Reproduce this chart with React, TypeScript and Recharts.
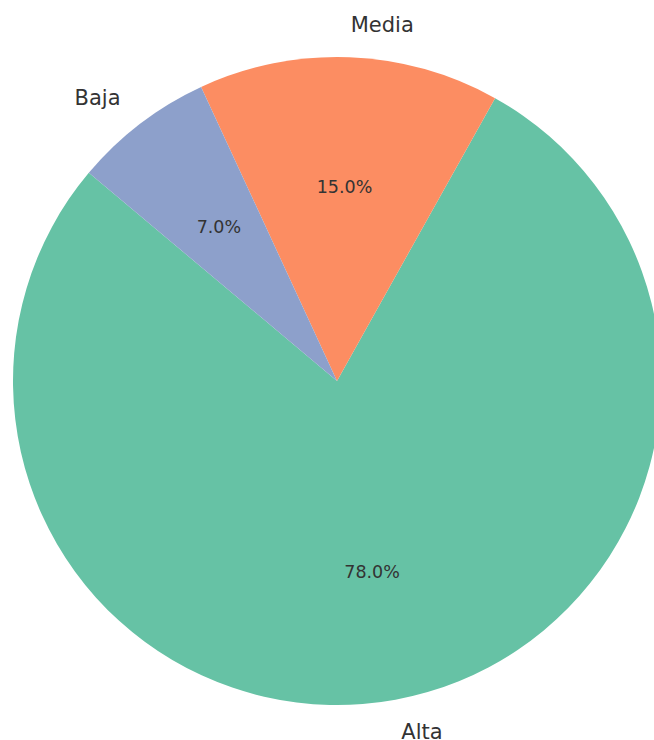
import { PieChart, Pie, Cell } from "recharts";

const categories = ["Alta", "Media", "Baja"];
const shares = [78, 15, 7];
const COLORS = ["#66c2a5", "#fc8d62", "#8da0cb"];

const data = categories.map((name, i) => ({ name, value: shares[i] }));

const RADIAN = Math.PI / 180;

function renderLabels(props: any) {
  const { cx, cy, midAngle, outerRadius, name, percent } = props;
  const cos = Math.cos(-midAngle * RADIAN);
  const sin = Math.sin(-midAngle * RADIAN);
  const lx = cx + outerRadius * 1.1 * cos;
  const ly = cy + outerRadius * 1.1 * sin;
  const px = cx + outerRadius * 0.6 * cos;
  const py = cy + outerRadius * 0.6 * sin;
  return (
    <g>
      <text
        x={lx}
        y={ly}
        fill="#333"
        fontSize={21}
        textAnchor={cos >= 0 ? "start" : "end"}
        dominantBaseline="central"
      >
        {name}
      </text>
      <text
        x={px}
        y={py}
        fill="#333"
        fontSize={17.5}
        textAnchor="middle"
        dominantBaseline="central"
      >
        {(percent * 100).toFixed(1)}%
      </text>
    </g>
  );
}

export default function App() {
  return (
    <div style={{ position: "absolute", left: 0, top: 0, background: "#fff", fontFamily: "'DejaVu Sans', sans-serif" }}>
      <PieChart width={654} height={740} margin={{ top: 0, right: 0, bottom: 0, left: 0 }}>
        <Pie
          data={data}
          dataKey="value"
          nameKey="name"
          cx={337}
          cy={381}
          outerRadius={324}
          startAngle={140}
          endAngle={500}
          stroke="none"
          label={renderLabels}
          labelLine={false}
          isAnimationActive={false}
        >
          {data.map((_, i) => (
            <Cell key={i} fill={COLORS[i]} />
          ))}
        </Pie>
      </PieChart>
    </div>
  );
}
